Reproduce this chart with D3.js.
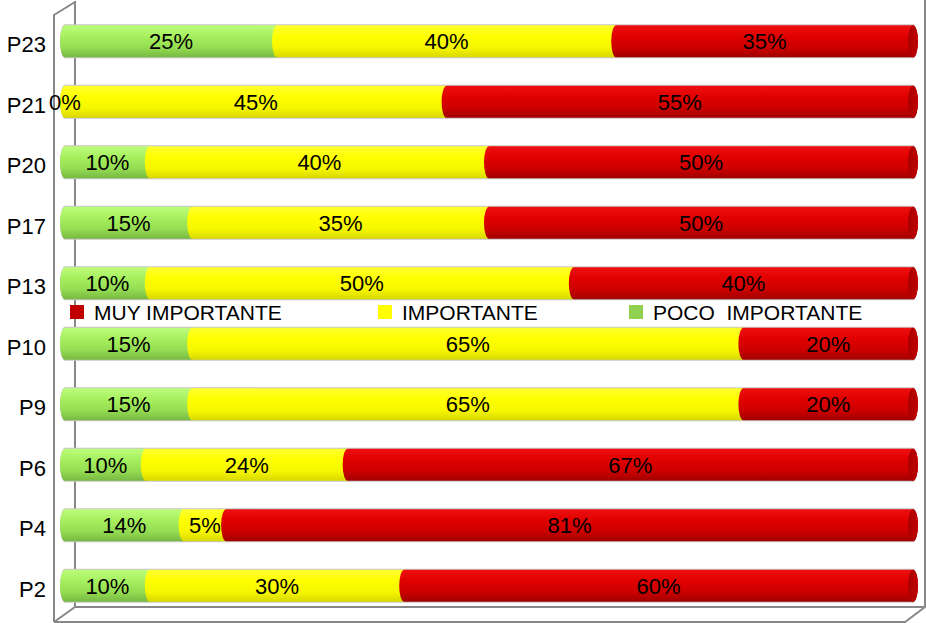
<!DOCTYPE html>
<html>
<head>
<meta charset="utf-8">
<script src="https://cdn.jsdelivr.net/npm/d3@7/dist/d3.min.js"></script>
<style>
  html, body { margin: 0; padding: 0; background: #fff; }
  svg { display: block; }
</style>
</head>
<body>
<svg id="chart" width="926" height="623"></svg>
<script>
// ---- data (percentages) ----
const categories = ["P23", "P21", "P20", "P17", "P13", "P10", "P9", "P6", "P4", "P2"];
const poco       = [25, 0, 10, 15, 10, 15, 15, 9.52, 14, 10];
const importante = [40, 45, 40, 35, 50, 65, 65, 23.81, 5, 30];
const muy        = [35, 55, 50, 50, 40, 20, 20, 66.67, 81, 60];
const seriesNames = ["POCO  IMPORTANTE", "IMPORTANTE", "MUY IMPORTANTE"];
const legendOrder = ["MUY IMPORTANTE", "IMPORTANTE", "POCO  IMPORTANTE"];

const seriesStyle = {
  "POCO  IMPORTANTE": { key: "g", stops: ["#bdfc7c", "#a6f05e", "#94dc52", "#78b842"], legend: "#92d050" },
  "IMPORTANTE":       { key: "y", stops: ["#ffff30", "#ffff00", "#f6f600", "#d8d800"], legend: "#ffff00" },
  "MUY IMPORTANTE":   { key: "r", stops: ["#ee1010", "#e00000", "#cc0000", "#a00000"], legend: "#c00000" }
};

const svg = d3.select("#chart");
const font = "'Liberation Sans', Arial, sans-serif";

// gradients
const defs = svg.append("defs");
Object.values(seriesStyle).forEach(s => {
  const g = defs.append("linearGradient").attr("id", "grad-" + s.key)
    .attr("x1", 0).attr("y1", 0).attr("x2", 0).attr("y2", 1);
  const offs = [0, 0.35, 0.7, 1];
  s.stops.forEach((c, i) => g.append("stop").attr("offset", offs[i]).attr("stop-color", c));
});
const capGrad = defs.append("linearGradient").attr("id", "grad-cap")
  .attr("x1", 0).attr("y1", 0).attr("x2", 1).attr("y2", 0);
capGrad.append("stop").attr("offset", 0).attr("stop-color", "#a80000");
capGrad.append("stop").attr("offset", 1).attr("stop-color", "#c00000");

// ---- frame (3D box walls) ----
const frame = svg.append("g").attr("stroke", "#878787").attr("stroke-width", 2).attr("fill", "none");
frame.append("path").attr("d", "M54,622 L54,15 L75,2");
frame.append("path").attr("d", "M75,1 L75,607 L925,607");
frame.append("path").attr("d", "M54,622 L75,607");
frame.append("path").attr("d", "M54,622 L905,622 L925,607 L925,0");

// ---- scales ----
const x = d3.scaleLinear().domain([0, 1]).range([65, 913]);
const y = d3.scaleBand().domain(categories).range([12, 615]).paddingInner(0.47).paddingOuter(0.22);

// stacked shares
const rows = categories.map((c, i) => {
  const vals = [poco[i], importante[i], muy[i]];
  const total = d3.sum(vals);
  let acc = 0;
  const segs = vals.map((v, j) => {
    const s = { cat: c, name: seriesNames[j], value: v, x0: acc / total, x1: (acc + v) / total };
    acc += v;
    return s;
  });
  return { cat: c, segs };
});

const rx = 5;
function segPath(x0, x1, top, bot) {
  const ry = (bot - top) / 2;
  return `M${x0},${top} L${x1},${top} A${rx},${ry} 0 0 1 ${x1},${bot} L${x0},${bot} A${rx},${ry} 0 0 1 ${x0},${top} Z`;
}

const bars = svg.append("g");
rows.forEach(r => {
  const top = y(r.cat), bot = top + y.bandwidth();
  const g = bars.append("g");
  g.append("path")
    .attr("d", segPath(x(0), x(1), top - 1, bot + 1))
    .attr("fill", "#c8c8c8");
  r.segs.forEach(s => {
    if (s.x1 - s.x0 <= 0) return;
    g.append("path")
      .attr("d", segPath(x(s.x0), x(s.x1), top, bot))
      .attr("fill", `url(#grad-${seriesStyle[s.name].key})`);
  });
  g.append("ellipse")
    .attr("cx", x(1)).attr("cy", (top + bot) / 2)
    .attr("rx", rx).attr("ry", (bot - top) / 2)
    .attr("fill", "url(#grad-cap)");
  r.segs.forEach(s => {
    g.append("text")
      .attr("x", x((s.x0 + s.x1) / 2))
      .attr("y", (top + bot) / 2)
      .attr("dy", "0.36em")
      .attr("text-anchor", "middle")
      .attr("font-family", font).attr("font-size", 22)
      .attr("fill", "#000")
      .text(Math.round(s.value) + "%");
  });
});

// category axis
const yAxis = d3.axisLeft(y).tickSize(0).tickPadding(0);
const ag = svg.append("g").attr("transform", "translate(46,0)").call(yAxis);
ag.select(".domain").remove();
ag.selectAll("text").attr("font-family", font).attr("font-size", 22).attr("fill", "#000")
  .attr("dy", "0.5em");

// legend
const legendX = [70, 378, 629];
const lg = svg.append("g");
legendOrder.forEach((name, i) => {
  const gi = lg.append("g").attr("transform", `translate(${legendX[i]},305)`);
  gi.append("rect").attr("width", 14).attr("height", 14).attr("fill", seriesStyle[name].legend);
  gi.append("text").attr("x", 24).attr("y", 7).attr("dy", "0.36em")
    .attr("font-family", font).attr("font-size", 21).attr("fill", "#000")
    .style("white-space", "pre")
    .text(name);
});
</script>
</body>
</html>
